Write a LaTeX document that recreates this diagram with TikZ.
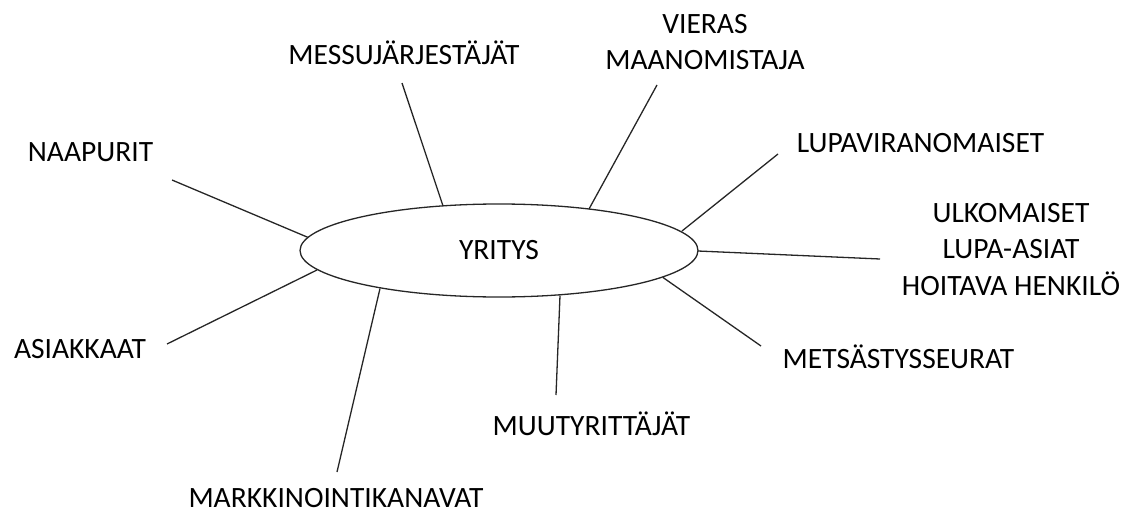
\documentclass[tikz,border=0pt]{standalone}
\usepackage{fontspec}
\setmainfont{Carlito}
\usetikzlibrary{shapes.geometric}
\begin{document}
\begin{tikzpicture}[x=1pt,y=-1pt,
  lbl/.style={font=\fontsize{29.5}{36.5}\selectfont, align=center, inner sep=0pt, text=black},
  conn/.style={line width=1.3pt, draw=black!85},
  core/.style={ellipse, draw=black!85, line width=1.3pt, minimum width=398pt, minimum height=93pt, inner sep=0pt, font=\fontsize{29.5}{36.5}\selectfont}]
\useasboundingbox (0,0) rectangle (1139,513);
% central ellipse
\node[core] (Y) at (499,250.5) {YRITYS};
% labels
\node[lbl, anchor=base] (naap) at (90.5,161) {NAAPURIT};
\node[lbl, anchor=base] (mess) at (404,65) {MESSUJÄRJESTÄJÄT};
\node[lbl, anchor=north] (vier) at (705,14) {VIERAS\\MAANOMISTAJA};
\node[lbl, anchor=base] (lupa) at (920.5,153) {LUPAVIRANOMAISET};
\node[lbl, anchor=north] (ulko) at (1011,203) {ULKOMAISET\\LUPA-ASIAT\\HOITAVA HENKILÖ};
\node[lbl, anchor=base] (mets) at (898.5,368) {METSÄSTYSSEURAT};
\node[lbl, anchor=base] (muut) at (591.5,435) {MUUTYRITTÄJÄT};
\node[lbl, anchor=base] (mark) at (336,507.5) {MARKKINOINTIKANAVAT};
\node[lbl, anchor=base] (asia) at (80,358) {ASIAKKAAT};
% points on the ellipse
\coordinate (eNaap) at (308,237.4);
\coordinate (eMess) at (443,205.9);
\coordinate (eVier) at (589,209);
\coordinate (eLupa) at (682,231);
\coordinate (eUlko) at (698,251);
\coordinate (eMets) at (663,277.5);
\coordinate (eMuut) at (560,295.5);
\coordinate (eMark) at (380,288.5);
\coordinate (eAsia) at (317,270);
% free ends near the labels
\coordinate (tNaap) at (172,180);
\coordinate (tMess) at (402,83);
\coordinate (tVier) at (657,85);
\coordinate (tLupa) at (778,154);
\coordinate (tUlko) at (880,259);
\coordinate (tMets) at (761,346);
\coordinate (tMuut) at (556,395);
\coordinate (tMark) at (337,472);
\coordinate (tAsia) at (167,344);
% connectors
\draw[conn] (eNaap) -- (tNaap);
\draw[conn] (eMess) -- (tMess);
\draw[conn] (eVier) -- (tVier);
\draw[conn] (eLupa) -- (tLupa);
\draw[conn] (eUlko) -- (tUlko);
\draw[conn] (eMets) -- (tMets);
\draw[conn] (eMuut) -- (tMuut);
\draw[conn] (eMark) -- (tMark);
\draw[conn] (eAsia) -- (tAsia);
\end{tikzpicture}
\end{document}
